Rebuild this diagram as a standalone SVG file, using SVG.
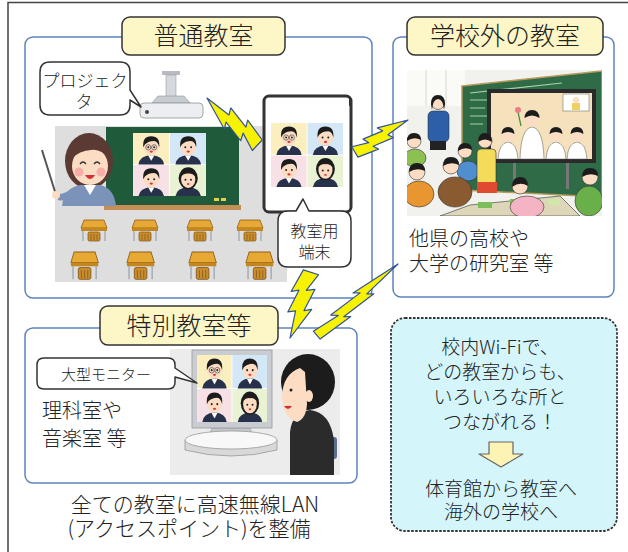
<svg xmlns="http://www.w3.org/2000/svg" width="628" height="552" viewBox="0 0 628 552">
<style>
  text{font-family:"Noto Sans CJK JP","Noto Sans",sans-serif;font-weight:300;fill:#222}
  .panel{fill:#fff;stroke:#5f82bd;stroke-width:1.5}
  .label{fill:#fdf6c6;stroke:#333;stroke-width:1.5}
  .title{font-size:25px;text-anchor:middle}
  .callout{fill:#fff;stroke:#333;stroke-width:1.5;stroke-linejoin:round}
  .body{font-size:20px}
  .cap{font-size:21px;text-anchor:middle}
  .note{font-size:19px;text-anchor:middle}
  .small{font-size:16px;text-anchor:middle}
  .bolt{fill:#f7f200;stroke:#33529c;stroke-width:1.2;stroke-linejoin:round}
  .ol{stroke:#333;stroke-width:0.6}
  .skin{fill:#fcdcc2}
  .hair{fill:#1c1c1c}
</style>
<defs>
  <!-- lightning bolt: tip at origin, broad end at x=100 -->
  <polygon id="bolt" class="bolt" vector-effect="non-scaling-stroke" points="0,0 40,-3 35,-10 70,-6 65,-13 100,-8 100,8 73,1 78,9 44,5 49,12"/>
  <!-- video-call participants -->
  <g id="man">
    <path d="M6,33 Q7,24 20,23 Q33,24 34,33Z" fill="#27314b"/>
    <path d="M16.5,23.3 L20,29 L23.5,23.3Z" fill="#fff"/>
    <ellipse class="skin" cx="20" cy="14" rx="8.5" ry="9.5"/>
    <path class="hair" d="M11.3,15 Q10,3.5 20,3.5 Q30,3.5 28.7,15 Q27.5,9 23,8.5 Q17,8.5 13,12Z"/>
    <circle cx="16.8" cy="15" r="1.1" fill="#222"/><circle cx="23.2" cy="15" r="1.1" fill="#222"/>
    <ellipse cx="20" cy="19.5" rx="1.8" ry="1.1" fill="#d83a3a"/>
  </g>
  <g id="woman">
    <path d="M6,33 Q7,24 20,23 Q33,24 34,33Z" fill="#27314b"/>
    <ellipse class="hair" cx="20" cy="14" rx="10.5" ry="11.5"/>
    <ellipse class="skin" cx="20" cy="15" rx="7.8" ry="9"/>
    <path class="hair" d="M12,12 Q14,5 20,5 Q26,5 28,12 Q24,8 20,9 Q16,8 12,12Z"/>
    <circle cx="17" cy="15.5" r="1.1" fill="#222"/><circle cx="23" cy="15.5" r="1.1" fill="#222"/>
    <ellipse cx="20" cy="20" rx="1.5" ry="1" fill="#d83a3a"/>
  </g>
  <symbol id="faces" viewBox="0 0 80 66" preserveAspectRatio="none">
    <rect width="80" height="66" fill="#fff"/>
    <rect x="0" y="0" width="39.5" height="32.5" fill="#fbefbf"/>
    <rect x="40.5" y="0" width="39.5" height="32.5" fill="#d3e7f6"/>
    <rect x="0" y="33.5" width="39.5" height="32.5" fill="#f7e1e6"/>
    <rect x="40.5" y="33.5" width="39.5" height="32.5" fill="#e9f2d3"/>
    <use href="#man"/>
    <path d="M14,15 a2.8,2.8 0 1 0 5.6,0 a2.8,2.8 0 1 0 -5.6,0 M20.4,15 a2.8,2.8 0 1 0 5.6,0 a2.8,2.8 0 1 0 -5.6,0 M19.6,15 H20.4" fill="none" stroke="#555" stroke-width="0.8"/>
    <use href="#man" x="40.5"/>
    <use href="#man" y="33.5"/>
    <use href="#woman" x="40.5" y="33.5"/>
  </symbol>
  <!-- school desk with chair -->
  <g id="desk">
    <polygon points="2,0 22,0 25,8 -1,8" fill="#e7a933" stroke="#8b5d1c" stroke-width="0.8"/>
    <rect x="-1" y="8" width="26" height="3" fill="#c4861f"/>
    <path d="M1,11 V21 M23,11 V21" stroke="#9aa3ad" stroke-width="1.2"/>
    <rect x="6" y="12" width="12" height="9" rx="1.5" fill="#c98d2c" stroke="#7a5218" stroke-width="0.7"/>
    <path d="M9,14 V20 M12,14 V20 M15,14 V20" stroke="#7a5218" stroke-width="0.6"/>
  </g>
  <clipPath id="photoClip"><rect x="407" y="70" width="195" height="146"/></clipPath>
</defs>

<rect width="628" height="552" fill="#fff"/>
<!-- outer frame -->
<path d="M8,552 V2.5 H628" fill="none" stroke="#444" stroke-width="1.5"/>

<!-- regular classroom -->
<g id="regular-classroom">
  <rect class="panel" x="25" y="37" width="347" height="261" rx="8"/>
  <rect x="55" y="126" width="232" height="156" fill="#dedede"/>
  <!-- blackboard -->
  <rect x="106" y="127" width="133" height="78" fill="#1f5a3a"/>
  <rect x="104" y="205" width="137" height="5" fill="#c58e55"/>
  <rect x="214" y="198" width="5" height="3" fill="#e8d040"/><rect x="221" y="198" width="5" height="3" fill="#e8d040"/>
  <use href="#faces" x="133" y="133" width="73" height="63"/>
  <!-- teacher -->
  <g id="teacher">
    <line x1="42" y1="150" x2="56" y2="195" stroke="#555" stroke-width="2"/>
    <ellipse cx="89" cy="161" rx="24" ry="28" fill="#5a3a32"/>
    <path d="M62,206 Q64,188 80,185 H100 Q114,188 116,206 Z" fill="#7c93b9"/>
    <path d="M84,185 L90,195 L96,185Z" fill="#fff"/>
    <path d="M70,190 Q60,196 56,193 L58,200 Q66,202 74,196Z" fill="#7c93b9"/>
    <circle class="skin" cx="56" cy="195" r="4"/>
    <ellipse class="skin" cx="90" cy="166" rx="18" ry="19"/>
    <path d="M70,160 Q73,136 91,137 Q108,139 110,160 Q101,148 91,150 Q80,150 70,160Z" fill="#5a3a32"/>
    <circle cx="79" cy="172" r="4.5" fill="#f5a3a3" opacity="0.8"/>
    <circle cx="101" cy="172" r="4.5" fill="#f5a3a3" opacity="0.8"/>
    <path d="M80,164 Q83,160 86,164 M94,164 Q97,160 100,164" fill="none" stroke="#333" stroke-width="1.3"/>
    <path d="M85,175 Q90,183 95,175Z" fill="#d3303a"/>
  </g>
  <!-- desks -->
  <use href="#desk" x="82" y="220"/>
  <use href="#desk" x="133" y="220"/>
  <use href="#desk" x="188" y="220"/>
  <use href="#desk" x="238" y="220"/>
  <use href="#desk" transform="translate(72,252) scale(1.05,1.3)"/>
  <use href="#desk" transform="translate(128,252) scale(1.05,1.3)"/>
  <use href="#desk" transform="translate(190,252) scale(1.05,1.3)"/>
  <use href="#desk" transform="translate(247,252) scale(1.05,1.3)"/>
  <!-- projector -->
  <g id="projector">
    <rect x="162" y="71" width="18" height="4" fill="#b8bcc2"/>
    <rect x="166" y="75" width="10" height="22" fill="#d5d8dc" stroke="#9aa0a6" stroke-width="0.6"/>
    <path d="M152,103 L158,96 H184 L190,103Z" fill="#c8ccd1" stroke="#8e949a" stroke-width="0.6"/>
    <rect x="140" y="103" width="63" height="15" rx="4" fill="#eceef1" stroke="#8e949a" stroke-width="0.8"/>
    <circle cx="147" cy="112" r="2" fill="#444"/>
  </g>
  <path class="callout" d="M50,62 H120 Q130,62 130,72 V90 L141,107 L130,100 V105 Q130,115 120,115 H50 Q40,115 40,105 V72 Q40,62 50,62 Z"/>
  <text x="85" y="87" font-size="17" text-anchor="middle">プロジェク</text>
  <text x="84" y="108" font-size="17" text-anchor="middle">タ</text>
  <rect class="label" x="122" y="17" width="163" height="38" rx="8"/>
  <text class="title" x="203.5" y="45">普通教室</text>
</g>

<!-- classroom tablet -->
<g id="tablet">
  <rect x="264" y="96" width="87" height="116" rx="5" fill="#fff" stroke="#333" stroke-width="3"/>
  <rect x="349" y="98" width="2.5" height="8" fill="#333"/>
  <use href="#faces" x="271" y="123" width="72" height="64"/>
  <path class="callout" d="M288,211 H296 L303,199 L309,211 H341 Q351,211 351,221 V257 Q351,267 341,267 H288 Q278,267 278,257 V221 Q278,211 288,211 Z"/>
  <text class="small" x="314.5" y="237">教室用</text>
  <text class="small" x="314.5" y="258">端末</text>
</g>

<!-- classroom outside the school -->
<g id="outside-classroom">
  <rect class="panel" x="393" y="37" width="221" height="260" rx="8"/>
  <g id="photo" clip-path="url(#photoClip)">
    <rect x="407" y="70" width="195" height="146" fill="#f1f2ee"/>
    <rect x="407" y="70" width="58" height="36" fill="#fafaf7"/>
    <path d="M426,70 V106 M446,70 V106" stroke="#d8d8d4"/>
    <polygon points="462,86 602,71 602,197 462,190" fill="#2f6b47" stroke="#b89a5a" stroke-width="1.5"/>
    <path d="M470,100 H488 M470,108 H485 M470,116 H488 M470,124 H483 M470,93 L562,83" stroke="#a8d3a8" stroke-width="1.2"/>
    <rect x="487" y="89" width="109" height="74" fill="#2a2a2a"/>
    <rect x="491" y="93" width="101" height="66" fill="#f5e1bb"/>
    <path d="M498,159 Q499,143 508,142 Q517,143 518,159Z" fill="#fff" stroke="#555" stroke-width="0.5"/>
    <circle class="skin" cx="508" cy="135" r="6.5"/><path class="hair" d="M501.5,134 Q502,127 508,127 Q514,127 514.5,134 Q508,130 501.5,134Z"/>
    <path d="M520,159 Q521,128 532,127 Q543,128 544,159Z" fill="#fff" stroke="#555" stroke-width="0.5"/>
    <circle class="skin" cx="532" cy="119" r="7.5"/><path class="hair" d="M524.5,118 Q525,110 532,110 Q539,110 539.5,118 Q532,113 524.5,118Z"/>
    <path d="M546,159 Q547,143 556,142 Q565,143 566,159Z" fill="#fff" stroke="#555" stroke-width="0.5"/>
    <circle class="skin" cx="556" cy="135" r="6.5"/><path class="hair" d="M549.5,134 Q550,127 556,127 Q562,127 562.5,134 Q556,130 549.5,134Z"/>
    <path d="M567,159 Q568,143 577,142 Q586,143 587,159Z" fill="#fff" stroke="#555" stroke-width="0.5"/>
    <circle class="skin" cx="577" cy="135" r="6.5"/><path class="hair" d="M570.5,134 Q571,127 577,127 Q583,127 583.5,134 Q577,130 570.5,134Z"/>
    <path d="M521,126 L518,112" stroke="#4a8a3a" stroke-width="1.2"/><circle cx="518" cy="110" r="3" fill="#ee7a8a"/>
    <rect x="563" y="94" width="26" height="17" fill="#fff" stroke="#777" stroke-width="0.6"/>
    <circle class="skin" cx="576" cy="100" r="3"/><rect x="572" y="103" width="8" height="7" fill="#f0d060"/>
    <rect x="513" y="163" width="3" height="26" fill="#777"/><rect x="566" y="163" width="3" height="26" fill="#777"/>
    <!-- standing teacher -->
    <rect x="428" y="111" width="21" height="31" rx="5" fill="#2d5ea8" class="ol"/>
    <rect x="430" y="141" width="16" height="9" fill="#222"/>
    <circle class="skin ol" cx="438" cy="103" r="6.5"/>
    <path class="hair" d="M431,104 Q431,95 438,95 Q445,95 445,104 L444,110 Q443,99 438,99 Q433,99 432,110Z"/>
    <!-- pupils -->
    <ellipse cx="415" cy="158" rx="11" ry="9" fill="#8cc152" class="ol"/>
    <circle class="skin ol" cx="414" cy="141" r="7"/><path class="hair" d="M407,141 Q407,133 414,133 Q421,133 421,140 Q414,136 407,141Z"/>
    <ellipse cx="468" cy="171" rx="11" ry="10" fill="#4f8fd0" class="ol"/>
    <circle class="skin ol" cx="465" cy="151" r="7"/><path class="hair" d="M458,151 Q458,143 465,143 Q472,143 472,150 Q465,146 458,151Z"/>
    <rect x="477" y="149" width="19" height="36" rx="4" fill="#f2dc5a" class="ol"/>
    <rect x="477" y="182" width="20" height="11" fill="#e04a30"/>
    <circle class="skin ol" cx="485" cy="141" r="7"/><path class="hair" d="M478,142 Q478,133 485,133 Q492,133 492,142 Q485,137 478,142Z"/>
    <ellipse cx="419" cy="194" rx="15" ry="13" fill="#e8962f" class="ol"/>
    <circle class="skin ol" cx="417" cy="172" r="8"/><path class="hair" d="M409,172 Q409,163 417,163 Q425,163 425,171 Q417,167 409,172Z"/>
    <ellipse cx="455" cy="192" rx="17" ry="15" fill="#8a5a30" class="ol"/>
    <circle class="skin ol" cx="451" cy="166" r="8"/><path class="hair" d="M443,166 Q443,157 451,157 Q459,157 459,165 Q451,161 443,166Z"/>
    <path d="M470,205 L560,196 L580,216 L440,216Z" fill="#ddd6b8" class="ol"/>
    <rect x="478" y="202" width="14" height="6" fill="#7cbf5a"/><rect x="510" y="199" width="14" height="6" fill="#7cbf5a"/><rect x="548" y="199" width="12" height="6" fill="#cfe8a8"/>
    <ellipse cx="527" cy="207" rx="17" ry="11" fill="#f4b4c4" class="ol"/>
    <circle class="skin ol" cx="520" cy="186" r="8"/><path class="hair" d="M512,187 Q512,177 520,177 Q528,177 528,186 Q520,181 512,187Z"/>
    <ellipse cx="589" cy="201" rx="14" ry="15" fill="#6ab04a" class="ol"/>
    <circle class="skin ol" cx="590" cy="177" r="8"/><path class="hair" d="M582,177 Q582,168 590,168 Q598,168 598,176 Q590,172 582,177Z"/>
  </g>
  <text class="body" x="409" y="246" font-size="21">他県の高校や</text>
  <text class="body" x="409" y="271" font-size="21">大学の研究室 等</text>
  <rect class="label" x="407" y="17" width="196" height="38" rx="8"/>
  <text class="title" x="505" y="45">学校外の教室</text>
</g>

<!-- special classrooms -->
<g id="special-classroom">
  <rect class="panel" x="25" y="328" width="332" height="155" rx="8"/>
  <rect x="170" y="349" width="170" height="126" fill="#ececec"/>
  <!-- monitor -->
  <path d="M212,428 L208,438 H254 L250,428Z" fill="#c3c7cb" stroke="#999" stroke-width="0.6"/>
  <path d="M185,440 V450 Q231,462 277,450 V440Z" fill="#d8d8d8" stroke="#999" stroke-width="0.8"/>
  <ellipse cx="231" cy="440" rx="46" ry="9" fill="#f8f8f8" stroke="#999" stroke-width="0.8"/>
  <rect x="192" y="350" width="80" height="78" fill="#c9ccd0" stroke="#999" stroke-width="0.8"/>
  <use href="#faces" x="197" y="355" width="70" height="67"/>
  <!-- viewer -->
  <rect x="312" y="437" width="25" height="22" rx="3" fill="#5b6f8f"/>
  <path d="M290,475 V432 Q292,412 310,410 Q330,412 334,440 V475Z" fill="#2b2b2b"/>
  <ellipse class="hair" cx="308" cy="382" rx="27" ry="28"/>
  <path class="skin" d="M300,368 Q283,374 282,396 Q283,418 297,422 Q306,419 307,404 L305,372Z"/>
  <ellipse class="skin" cx="309" cy="396" rx="4" ry="6"/>
  <circle cx="291" cy="390" r="1.5" fill="#222"/>
  <path d="M284,406 Q288,412 292,406Z" fill="#d3303a"/>
  <path class="callout" d="M44,358 H168 Q175,358 175,365 V368 L197,383 L175,377 V382 Q175,389 168,389 H44 Q37,389 37,382 V365 Q37,358 44,358 Z"/>
  <text x="106" y="380" font-size="15" text-anchor="middle">大型モニター</text>
  <text class="body" x="42" y="418">理科室や</text>
  <text class="body" x="42" y="446">音楽室 等</text>
  <rect class="label" x="100" y="306" width="178" height="39" rx="8"/>
  <text class="title" x="189" y="335">特別教室等</text>
</g>

<!-- caption -->
<g id="caption">
  <text class="cap" x="195" y="512">全ての教室に高速無線LAN</text>
  <text class="cap" x="189" y="536">(アクセスポイント)を整備</text>
</g>

<!-- Wi-Fi note -->
<g id="wifi-note">
  <rect x="391" y="318" width="226" height="213" rx="14" fill="#d4f5fa" stroke="#333" stroke-width="1.8" stroke-dasharray="2.5,1.5"/>
  <text class="note" x="500" y="354">校内Wi-Fiで、</text>
  <text class="note" x="500" y="379">どの教室からも、</text>
  <text class="note" x="500" y="404">いろいろな所と</text>
  <text class="note" x="500" y="429">つながれる！</text>
  <polygon points="489,442 513,442 513,454 523,454 501,467 479,454 489,454" fill="#fdf3b4" stroke="#666" stroke-width="1.2" stroke-linejoin="round"/>
  <text class="note" x="501" y="496">体育館から教室へ</text>
  <text class="note" x="501" y="519">海外の学校へ</text>
</g>

<!-- wireless links -->
<g id="connectors">
  <use href="#bolt" transform="translate(207,98) rotate(43.2) scale(0.69,0.9)"/>
  <use href="#bolt" transform="translate(408,120) rotate(149) scale(0.62,0.75)"/>
  <use href="#bolt" transform="translate(290,338) rotate(-72.3) scale(0.69,1.0)"/>
  <use href="#bolt" transform="translate(398,264) rotate(138.8) scale(1.08,0.65)"/>
</g>
</svg>
